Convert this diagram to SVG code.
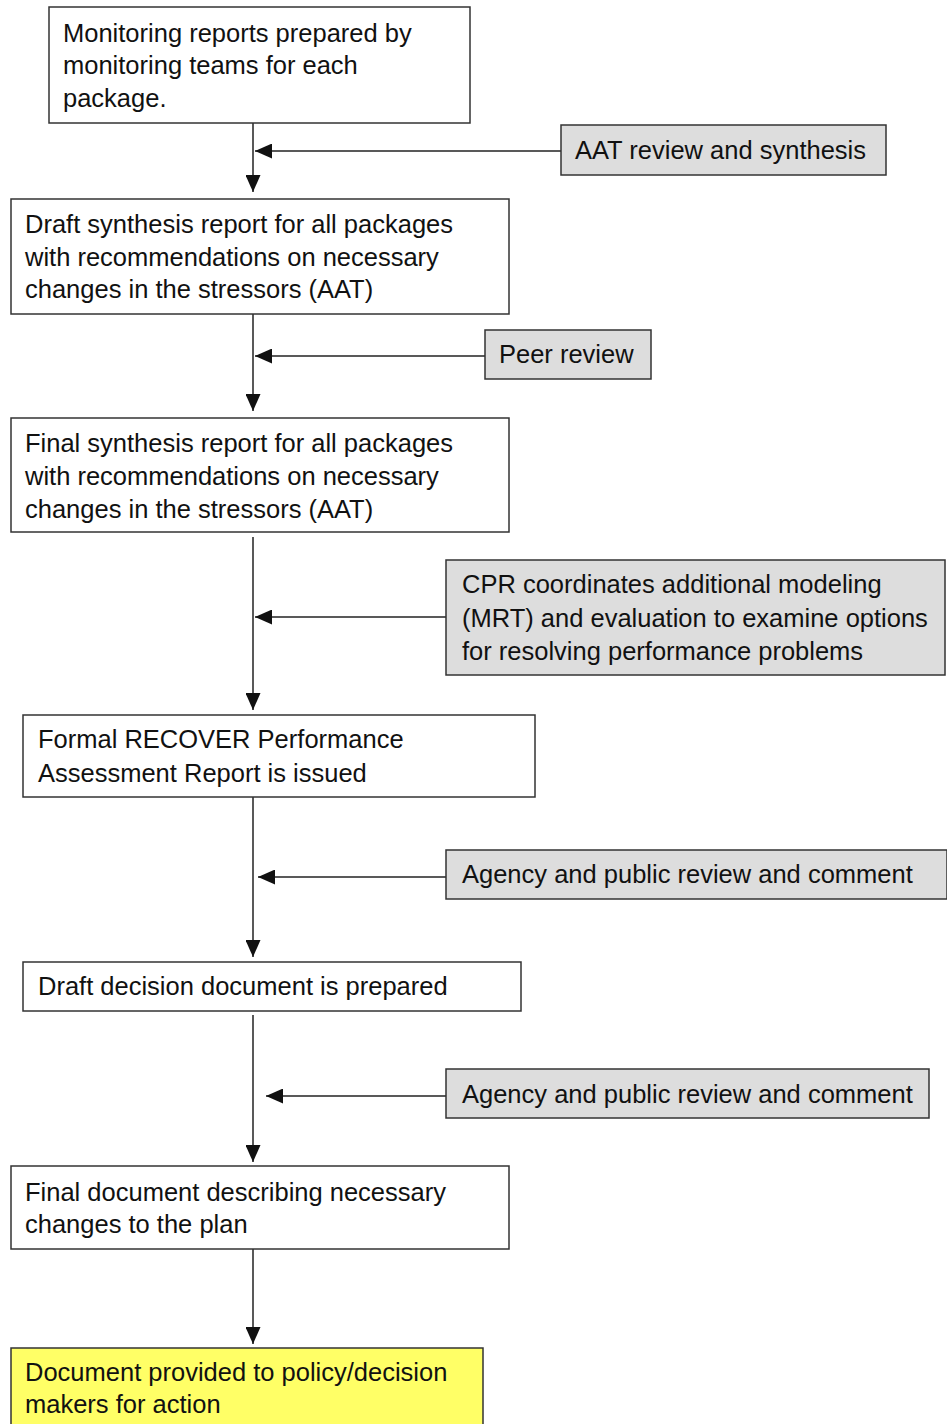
<svg xmlns="http://www.w3.org/2000/svg" width="947" height="1424" viewBox="0 0 947 1424">
<style>
.box{fill:#ffffff;stroke:#333333;stroke-width:1.5}
.gray{fill:#dddddd;stroke:#333333;stroke-width:1.5}
.yellow{fill:#ffff66;stroke:#333333;stroke-width:1.5}
.t{font-family:"Liberation Sans",Arial,sans-serif;font-size:25.5px;fill:#111111}
.c{stroke:#222222;stroke-width:1.5;fill:none}
</style>
<defs>
<marker id="ah" viewBox="0 0 17 15" markerWidth="17" markerHeight="15" refX="17" refY="7.5" orient="auto" markerUnits="userSpaceOnUse">
<path d="M0,0 L17,7.5 L0,15 z" fill="#111111"/>
</marker>
</defs>
<rect width="947" height="1424" fill="#ffffff"/>
<g id="connectors">
<line class="c" x1="253" y1="123" x2="253" y2="192" marker-end="url(#ah)"/>
<line class="c" x1="561" y1="151" x2="255" y2="151" marker-end="url(#ah)"/>
<line class="c" x1="253" y1="314" x2="253" y2="411" marker-end="url(#ah)"/>
<line class="c" x1="485" y1="356" x2="255" y2="356" marker-end="url(#ah)"/>
<line class="c" x1="253" y1="537" x2="253" y2="710" marker-end="url(#ah)"/>
<line class="c" x1="446" y1="617" x2="255" y2="617" marker-end="url(#ah)"/>
<line class="c" x1="253" y1="797" x2="253" y2="957" marker-end="url(#ah)"/>
<line class="c" x1="446" y1="877" x2="258" y2="877" marker-end="url(#ah)"/>
<line class="c" x1="253" y1="1015" x2="253" y2="1162" marker-end="url(#ah)"/>
<line class="c" x1="446" y1="1096" x2="266" y2="1096" marker-end="url(#ah)"/>
<line class="c" x1="253" y1="1249" x2="253" y2="1344" marker-end="url(#ah)"/>
</g>
<g id="n1">
<rect class="box" x="49" y="7" width="421" height="116"/>
<text class="t" x="63" y="42">Monitoring reports prepared by</text>
<text class="t" x="63" y="74">monitoring teams for each</text>
<text class="t" x="63" y="107">package.</text>
</g>
<g id="n2">
<rect class="box" x="11" y="199" width="498" height="115"/>
<text class="t" x="25" y="233">Draft synthesis report for all packages</text>
<text class="t" x="25" y="266">with recommendations on necessary</text>
<text class="t" x="25" y="298">changes in the stressors (AAT)</text>
</g>
<g id="n3">
<rect class="box" x="11" y="418" width="498" height="114"/>
<text class="t" x="25" y="452">Final synthesis report for all packages</text>
<text class="t" x="25" y="485">with recommendations on necessary</text>
<text class="t" x="25" y="518">changes in the stressors (AAT)</text>
</g>
<g id="n4">
<rect class="box" x="23" y="715" width="512" height="82"/>
<text class="t" x="38" y="748">Formal RECOVER Performance</text>
<text class="t" x="38" y="782">Assessment Report is issued</text>
</g>
<g id="n5">
<rect class="box" x="23" y="962" width="498" height="49"/>
<text class="t" x="38" y="995">Draft decision document is prepared</text>
</g>
<g id="n6">
<rect class="box" x="11" y="1166" width="498" height="83"/>
<text class="t" x="25" y="1201">Final document describing necessary</text>
<text class="t" x="25" y="1233">changes to the plan</text>
</g>
<g id="n7">
<rect class="yellow" x="11" y="1348" width="472" height="90"/>
<text class="t" x="25" y="1381">Document provided to policy/decision</text>
<text class="t" x="25" y="1413">makers for action</text>
</g>
<g id="g1">
<rect class="gray" x="561" y="125" width="325" height="50"/>
<text class="t" x="575" y="159">AAT review and synthesis</text>
</g>
<g id="g2">
<rect class="gray" x="485" y="330" width="166" height="49"/>
<text class="t" x="499" y="363">Peer review</text>
</g>
<g id="g3">
<rect class="gray" x="446" y="560" width="499" height="115"/>
<text class="t" x="462" y="593">CPR coordinates additional modeling</text>
<text class="t" x="462" y="627">(MRT) and evaluation to examine options</text>
<text class="t" x="462" y="660">for resolving performance problems</text>
</g>
<g id="g4">
<rect class="gray" x="446" y="850" width="501" height="49"/>
<text class="t" x="462" y="883">Agency and public review and comment</text>
</g>
<g id="g5">
<rect class="gray" x="446" y="1069" width="483" height="49"/>
<text class="t" x="462" y="1103">Agency and public review and comment</text>
</g>
</svg>
